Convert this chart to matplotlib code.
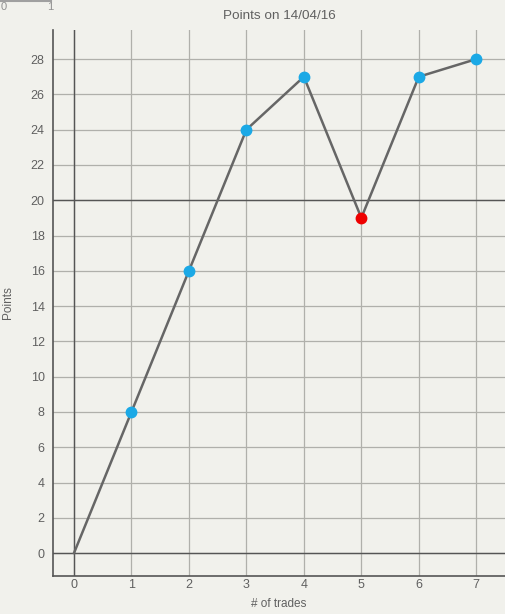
import numpy as np
import matplotlib
matplotlib.use("Agg")
from matplotlib import pyplot as plt

trades = [0, 1, 2, 3, 4, 5, 6, 7]
points = [0, 8, 16, 24, 27, 19, 27, 28]
marker_colors = [None, '#1ba9e6', '#1ba9e6', '#1ba9e6', '#1ba9e6', '#ee0000', '#1ba9e6', '#1ba9e6']
y_ticks = list(range(0, 29, 2))

bg = '#f1f1ec'
txt = '#606060'
plt.rcParams['font.family'] = ['Liberation Sans', 'DejaVu Sans']

fig = plt.figure(figsize=(5.05, 6.14), dpi=100, facecolor=bg)
W, H = 505, 614
ax = fig.add_axes([53 / W, (H - 576) / H, 1 - 53 / W, (576 - 30) / H])
ax.set_facecolor(bg)

ax.set_xlim(-0.365, 7.5)
ax.set_ylim(-1.3, 29.65)
ax.set_xticks(trades)
ax.set_yticks(y_ticks)
ax.grid(True, color='#b0b0ab', linewidth=0.9)
ax.set_axisbelow(True)
ax.tick_params(axis='y', length=0, labelsize=9, labelcolor=txt, pad=6)
ax.tick_params(axis='x', length=0, labelsize=9, labelcolor=txt, pad=2)

for s in ['top', 'right']:
    ax.spines[s].set_visible(False)
for s in ['left', 'bottom']:
    ax.spines[s].set_color('#555555')
    ax.spines[s].set_linewidth(1.2)

# darker reference lines
ax.axhline(0, color='#555555', linewidth=1.0, zorder=1)
ax.axhline(20, color='#555555', linewidth=1.0, zorder=1)
ax.axvline(0, color='#555555', linewidth=1.0, zorder=1)

ax.plot(trades, points, color='#666666', linewidth=1.8, zorder=2)
for x, y, c in zip(trades, points, marker_colors):
    if c:
        ax.plot(x, y, 'o', color=c, markersize=7.5, zorder=3)

ax.set_title('Points on 14/04/16', fontsize=9.7, color=txt, pad=8)
ax.set_xlabel('# of trades', fontsize=8.5, color=txt, labelpad=5)
ax.set_ylabel('Points', fontsize=8.5, color=txt, labelpad=12)

# little scale at top-left
fig.add_artist(plt.Line2D([0, 51 / W], [1 - 1 / H, 1 - 1 / H], color='#a0a0a0', linewidth=1.5))
fig.text(1 / W, 1 - 7 / H, '0', fontsize=8, color='#909090', ha='left', va='center')
fig.text(50 / W, 1 - 7 / H, '1', fontsize=8, color='#909090', ha='center', va='center')

fig.savefig('out.png', dpi=100, facecolor=bg)
